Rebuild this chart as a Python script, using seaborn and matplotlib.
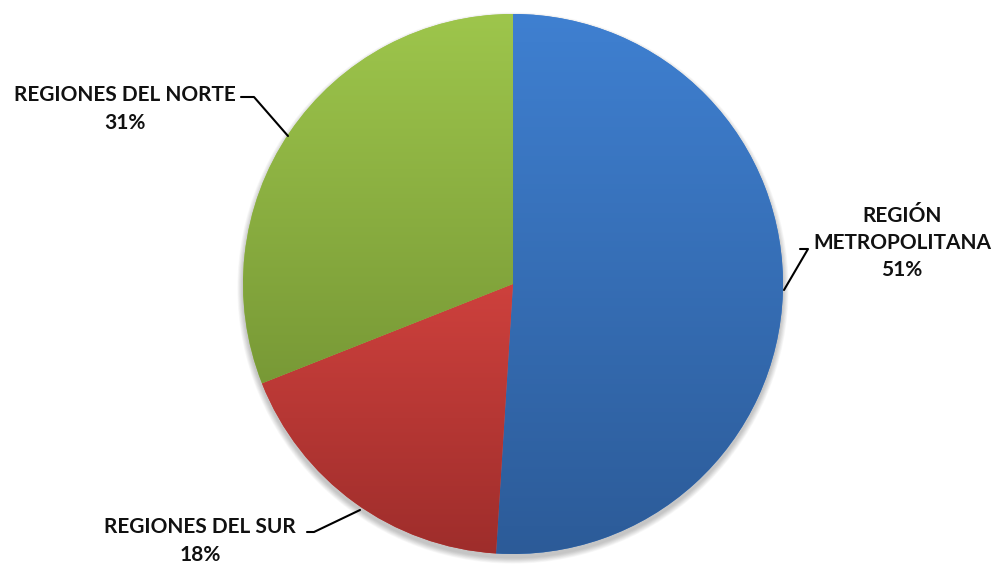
import numpy as np
import matplotlib
matplotlib.use("Agg")
import matplotlib.pyplot as plt
import seaborn as sns
from matplotlib.colors import LinearSegmentedColormap
from matplotlib.patches import Circle

# Participación por zona
categorias = ["REGIÓN\nMETROPOLITANA", "REGIONES DEL SUR", "REGIONES DEL NORTE"]
porcentajes = [51, 18, 31]
colores_arriba = ["#3F80D1", "#CE413D", "#9EC64C"]
colores_abajo = ["#2C5B98", "#9E2D2B", "#789936"]

sns.set_theme(style="white")
plt.rcParams["font.family"] = ["Lato", "DejaVu Sans"]

W, H = 995, 565
fig = plt.figure(figsize=(W / 100, H / 100), dpi=100)
ax = fig.add_axes([0, 0, 1, 1])
ax.set_xlim(0, W)
ax.set_ylim(0, H)
ax.set_aspect("equal")
ax.axis("off")

cx, cy, r = 513, H - 284, 270

# soft shadow under the pie
for i in range(10):
    ax.add_patch(Circle((cx, cy - 4), r + 0.3 + i * 0.6, facecolor="black",
                        edgecolor="none", alpha=0.025, zorder=0))

wedges, _ = ax.pie(porcentajes, startangle=90, counterclock=False,
                   radius=r, center=(cx, cy), frame=True,
                   wedgeprops=dict(linewidth=0, edgecolor="none"))
ax.set_xlim(0, W)
ax.set_ylim(0, H)
ax.axis("off")

# vertical gradient inside each slice
for w, top, bot in zip(wedges, colores_arriba, colores_abajo):
    t = np.radians(np.linspace(w.theta1, w.theta2, 200))
    ys = np.concatenate([cy + r * np.sin(t), [cy]])
    xs = np.concatenate([cx + r * np.cos(t), [cx]])
    cmap = LinearSegmentedColormap.from_list("g", [bot, top])
    grad = np.linspace(0, 1, 256).reshape(-1, 1)
    im = ax.imshow(grad, cmap=cmap, origin="lower", aspect="auto",
                   extent=[xs.min() - 2, xs.max() + 2, ys.min() - 2, ys.max() + 2],
                   zorder=w.get_zorder() + 0.1, interpolation="bilinear")
    im.set_clip_path(w)
    w.set_facecolor(top)

ax.set_xlim(0, W)
ax.set_ylim(0, H)

txt = dict(fontsize=15, fontweight="bold", color="#111111",
           ha="center", va="center", linespacing=1.45)

def Y(p):
    return H - p

# labels with leader lines
ax.text(902, Y(243), f"{categorias[0]}\n{porcentajes[0]}%", **txt)
ax.plot([800, 808, 784], [Y(249), Y(249), Y(290)], color="black", lw=1.5, zorder=5)

ax.text(200, Y(541), f"{categorias[1]}\n{porcentajes[1]}%", **txt)
ax.plot([307, 314, 360], [Y(532), Y(532), Y(510)], color="black", lw=1.5, zorder=5)

ax.text(125, Y(109), f"{categorias[2]}\n{porcentajes[2]}%", **txt)
ax.plot([241, 254, 288], [Y(97), Y(97), Y(136)], color="black", lw=1.5, zorder=5)

fig.savefig("out.png", dpi=100, facecolor="white")
